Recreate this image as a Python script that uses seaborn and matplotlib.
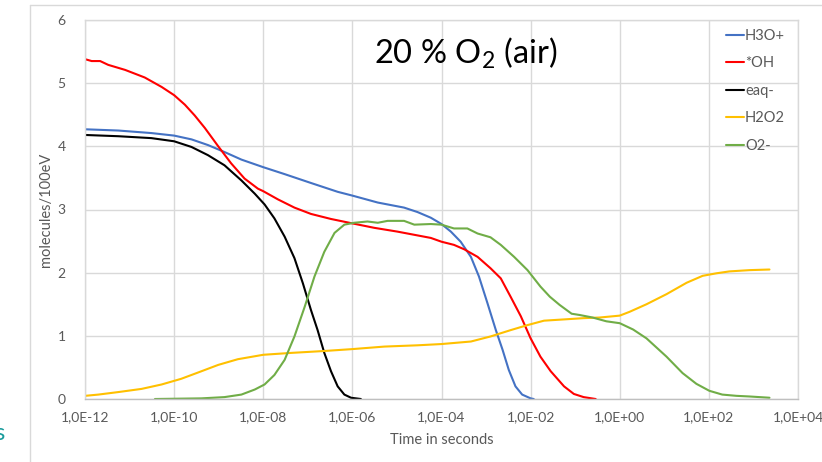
import numpy as np
import pandas as pd
import matplotlib
matplotlib.use("Agg")
import matplotlib.pyplot as plt
import seaborn as sns
from matplotlib.lines import Line2D
from matplotlib.ticker import FixedLocator, FuncFormatter

# ==========================================================
# Data (log10 of time in s, molecules/100eV)
# ==========================================================
h3o_logt = [-12, -11.25, -10.51, -10, -9.61, -9.24, -8.87, -8.49, -8, -7.52, -6.93, -6.33, -6,
            -5.43, -4.84, -4.54, -4.24, -4, -3.79, -3.57, -3.34, -3.16, -2.97, -2.78, -2.63,
            -2.49, -2.34, -2.19, -2.0, -1.93]
h3o_val = [4.27, 4.25, 4.21, 4.17, 4.11, 4.02, 3.91, 3.79, 3.67, 3.56, 3.42, 3.28, 3.22,
           3.11, 3.03, 2.96, 2.87, 2.77, 2.65, 2.49, 2.25, 1.94, 1.52, 1.09, 0.78,
           0.46, 0.20, 0.07, 0.01, 0.0]

oh_logt = [-12, -11.85, -11.66, -11.48, -11.10, -10.66, -10.28, -10, -9.76, -9.54, -9.31, -9.01,
           -8.72, -8.42, -8.12, -8, -7.67, -7.30, -6.93, -6.48, -6, -5.51, -4.99, -4.54, -4.24,
           -4, -3.72, -3.49, -3.19, -2.90, -2.67, -2.45, -2.22, -2.0, -1.78, -1.55, -1.25,
           -1.03, -0.81, -0.54]
oh_val = [5.38, 5.35, 5.35, 5.29, 5.21, 5.09, 4.94, 4.81, 4.66, 4.49, 4.29, 4.00,
          3.73, 3.49, 3.33, 3.29, 3.16, 3.03, 2.93, 2.85, 2.78, 2.71, 2.65, 2.59, 2.55,
          2.49, 2.44, 2.37, 2.25, 2.07, 1.91, 1.62, 1.31, 0.96, 0.67, 0.44, 0.20,
          0.08, 0.03, 0.0]

eaq_logt = [-12, -11.25, -10.51, -10, -9.61, -9.24, -8.87, -8.49, -8.19, -7.97, -7.75, -7.52,
            -7.30, -7.11, -6.93, -6.78, -6.63, -6.48, -6.33, -6.18, -6.03, -5.81]
eaq_val = [4.18, 4.16, 4.13, 4.08, 3.99, 3.86, 3.70, 3.46, 3.25, 3.08, 2.86, 2.57,
           2.23, 1.83, 1.41, 1.09, 0.73, 0.44, 0.20, 0.07, 0.02, 0.0]

h2o2_logt = [-12, -11.70, -11.25, -10.73, -10.28, -9.84, -9.46, -9.01, -8.57, -8, -7.37, -6.63,
             -6, -5.28, -4.54, -4, -3.34, -2.90, -2.45, -2.07, -1.70, -1.25, -0.81, -0.45,
             0, 0.22, 0.60, 1.05, 1.50, 1.86, 2.17, 2.46, 2.91, 3.36]
h2o2_val = [0.05, 0.07, 0.11, 0.16, 0.23, 0.32, 0.42, 0.54, 0.63, 0.70, 0.73, 0.76,
            0.79, 0.83, 0.85, 0.87, 0.91, 0.99, 1.09, 1.17, 1.24, 1.26, 1.28, 1.29,
            1.32, 1.38, 1.50, 1.66, 1.84, 1.95, 1.99, 2.02, 2.04, 2.05]

o2_logt = [-10.43, -9.39, -8.87, -8.49, -8.19, -7.97, -7.75, -7.52, -7.30, -7.07, -6.85, -6.63,
           -6.40, -6.18, -5.96, -5.66, -5.43, -5.21, -4.84, -4.61, -4.24, -4, -3.72, -3.42,
           -3.19, -2.90, -2.67, -2.37, -2.07, -1.78, -1.57, -1.35, -1.08, -0.90, -0.61,
           -0.30, 0, 0.30, 0.60, 1.05, 1.41, 1.72, 2.01, 2.30, 2.62, 2.91, 3.36]
o2_val = [0.0, 0.01, 0.03, 0.07, 0.15, 0.23, 0.38, 0.62, 0.99, 1.46, 1.94, 2.33,
          2.63, 2.76, 2.79, 2.81, 2.79, 2.82, 2.82, 2.76, 2.77, 2.76, 2.70, 2.70,
          2.62, 2.56, 2.44, 2.25, 2.04, 1.78, 1.62, 1.49, 1.35, 1.33, 1.29,
          1.23, 1.20, 1.10, 0.96, 0.67, 0.41, 0.24, 0.13, 0.07, 0.05, 0.04, 0.02]

species = ["H3O+", "*OH", "eaq-", "H2O2", "O2-"]
colors = ["#4472C4", "#FF0000", "#000000", "#FFC000", "#70AD47"]

frames = []
for name, lt, v in zip(species,
                       [h3o_logt, oh_logt, eaq_logt, h2o2_logt, o2_logt],
                       [h3o_val, oh_val, eaq_val, h2o2_val, o2_val]):
    frames.append(pd.DataFrame({"time": 10.0 ** np.array(lt), "value": v, "species": name}))
df = pd.concat(frames, ignore_index=True)

# ==========================================================
# Plot
# ==========================================================
sns.set_style("white")
plt.rcParams["font.family"] = ["Lato", "DejaVu Sans"]
plt.rcParams["mathtext.fontset"] = "custom"
plt.rcParams["mathtext.rm"] = "Lato"

fig = plt.figure(figsize=(8.22, 4.62), dpi=100)
ax = fig.add_axes([85 / 822, 1 - 399 / 462, (798 - 85) / 822, (399 - 20) / 462])

sns.lineplot(data=df, x="time", y="value", hue="species", hue_order=species,
             palette=colors, estimator=None, sort=False, linewidth=1.5, ax=ax, legend=False)

ax.set_xscale("log")
ax.set_xlim(1e-12, 1e4)
ax.set_ylim(0, 6)
ax.xaxis.set_major_locator(FixedLocator([10.0 ** e for e in range(-12, 5, 2)]))
ax.xaxis.set_minor_locator(FixedLocator([]))
ax.xaxis.set_major_formatter(FuncFormatter(lambda v, p: "1,0E%+03d" % int(round(np.log10(v)))))
ax.set_yticks(range(0, 7))

grid_c = "#d9d9d9"
ax.grid(True, color=grid_c, linewidth=1)
for s in ax.spines.values():
    s.set_color(grid_c)
    s.set_linewidth(1)
ax.spines["bottom"].set_color("#bfbfbf")
ax.tick_params(axis="both", length=0, labelsize=10, labelcolor="#595959")
ax.tick_params(axis="x", pad=9)
ax.tick_params(axis="y", pad=14)

ax.set_xlabel("Time in seconds", fontsize=10.5, color="#595959", labelpad=7)
ax.set_ylabel("molecules/100eV", fontsize=10.5, color="#595959", va="center")
ax.yaxis.set_label_coords((46 - 85) / 713, 0.5)

ax.text(0.534, 0.912, r"20 % O$_\mathrm{2}$ (air)", transform=ax.transAxes,
        ha="center", va="center", fontsize=23.5, color="black")

handles = [Line2D([], [], color=c, linewidth=1.5) for c in colors]
fig.legend(handles, species, loc="upper left", bbox_to_anchor=(726 / 822, 1 - 29 / 462),
           frameon=False, fontsize=10.5, handlelength=1.2, handletextpad=0.1,
           labelspacing=0.92, borderpad=0, borderaxespad=0, labelcolor="#595959")

# outer chart frame and cropped glyph at left edge
fig.add_artist(Line2D([30 / 822, 30 / 822], [0, 1 - 5 / 462], color=grid_c, linewidth=1,
                      transform=fig.transFigure))
fig.add_artist(Line2D([30 / 822, 1], [1 - 5 / 462, 1 - 5 / 462], color=grid_c, linewidth=1,
                      transform=fig.transFigure))
fig.text(-6 / 822, 1 - 433 / 462, "s", fontsize=17, color="#1a9c9c", ha="left", va="center")

fig.savefig("out.png", dpi=100)
